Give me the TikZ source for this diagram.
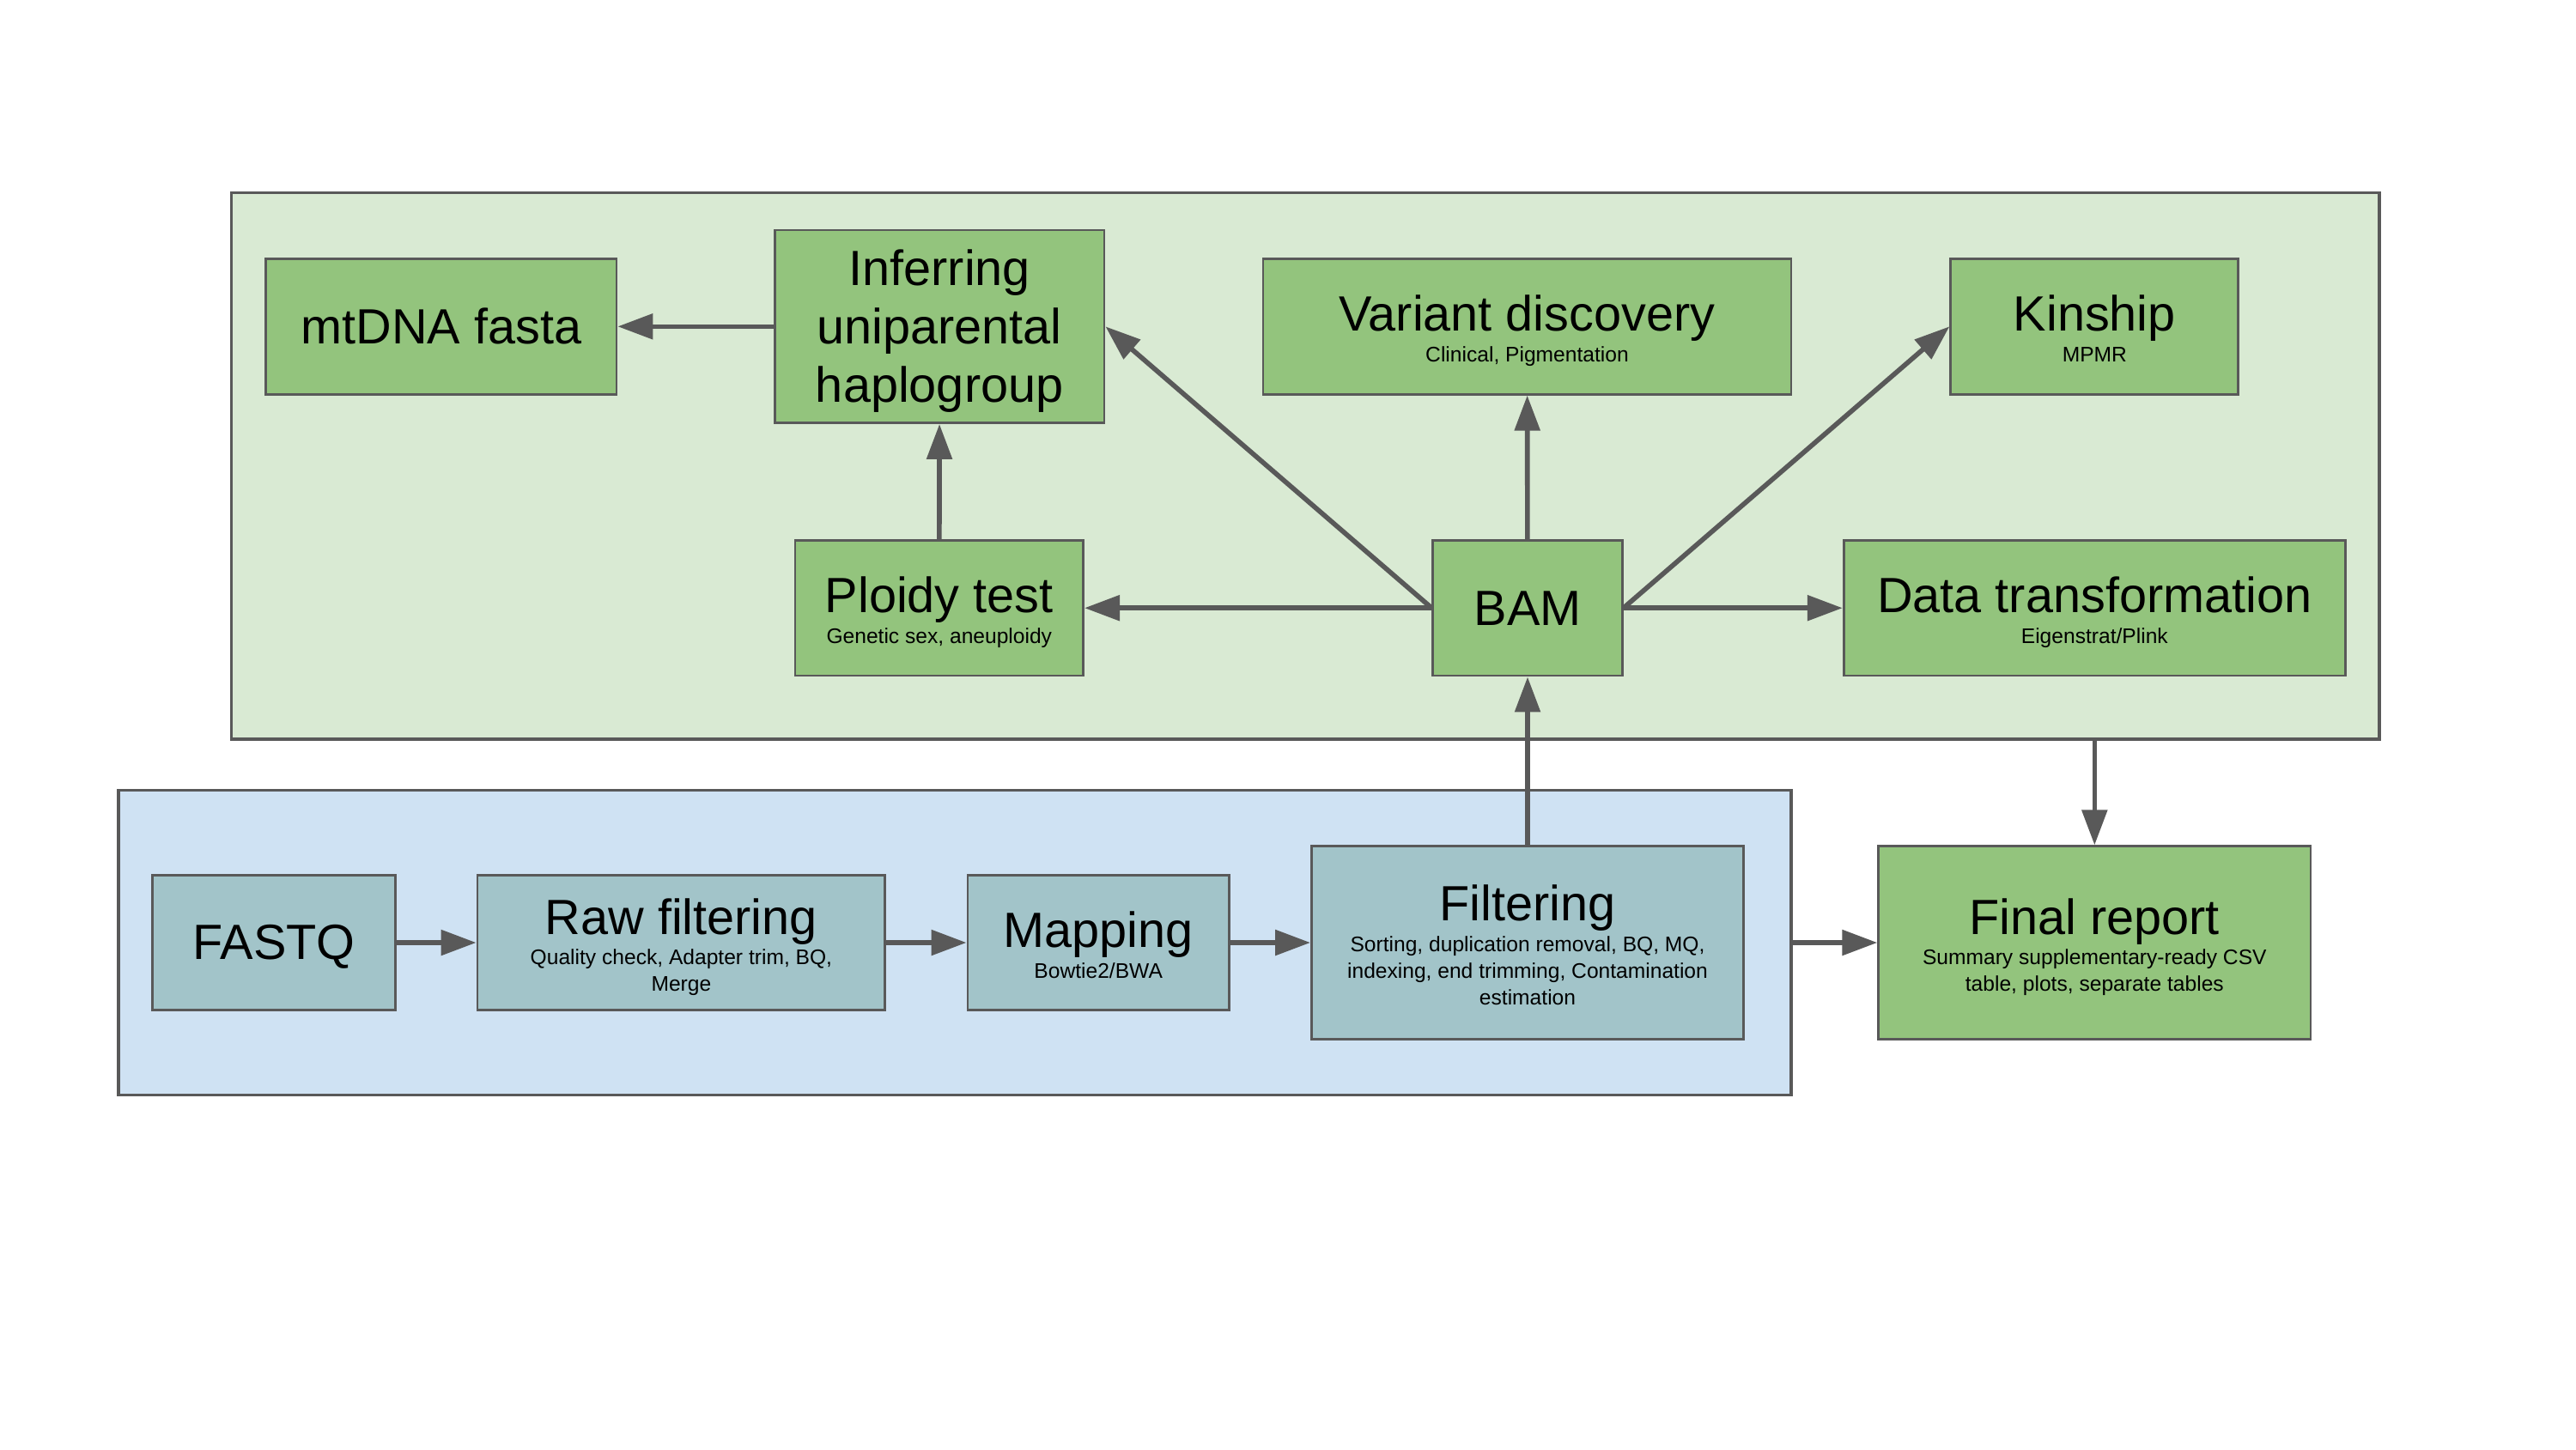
\documentclass[tikz,border=0pt]{standalone}
\usepackage{fontspec}
\setmainfont{Liberation Sans}
\usetikzlibrary{arrows.meta}

\definecolor{boxgreen}{HTML}{93C47D}
\definecolor{panelgreen}{HTML}{D9EAD3}
\definecolor{panelblue}{HTML}{CFE2F3}
\definecolor{boxblue}{HTML}{A2C4C9}
\definecolor{linegray}{HTML}{595959}

\newcommand\titlefont{\fontsize{16.4}{19.4}\selectfont}
\newcommand\subfont{\fontsize{7}{8.85}\selectfont}
\newcommand\tstrut{\rule{0pt}{0.905em}}
\newcommand\bstrut{\rule[-0.212em]{0pt}{0pt}}
\newcommand\titletext[1]{{\titlefont\tstrut #1}}

\begin{document}
\begin{tikzpicture}[x=1cm,y=-1cm,
	panel/.style={draw=linegray,line width=1pt,inner sep=0pt},
	stage/.style={draw=linegray,line width=0.8pt,inner sep=0pt,align=center,font=\subfont},
	greenstage/.style={stage,fill=boxgreen},
	bluestage/.style={stage,fill=boxblue},
	arr/.style={draw=linegray,line width=1.6pt,-{Triangle[length=0.41cm,width=0.29cm]}}]
	
	\def\rowh{1.577cm};
	\def\tallh{2.245cm};
	\def\gap{1.3pt};
	
	\useasboundingbox (0,0) rectangle (30,16.88);
	
	\node[panel,fill=panelgreen,minimum width=25.014cm,minimum height=6.362cm] (green) at (15.203,5.427) {};
	\node[panel,fill=panelblue,minimum width=19.481cm,minimum height=3.549cm] (blue) at (11.12,10.98) {};
	
	\node[greenstage,font=\titlefont,minimum width=4.084cm,minimum height=\rowh] (mtdna) at (5.138,3.803) {\tstrut mtDNA fasta\bstrut};
	\node[greenstage,font=\titlefont,minimum width=3.836cm,minimum height=\tallh] (haplo) at (10.942,3.803) {\tstrut Inferring\\uniparental\\haplogroup\bstrut};
	\node[greenstage,minimum width=6.15cm,minimum height=\rowh] (variant) at (17.785,3.803) {\titletext{Variant discovery}\\[\gap]Clinical, Pigmentation\bstrut};
	\node[greenstage,minimum width=3.351cm,minimum height=\rowh] (kinship) at (24.393,3.803) {\titletext{Kinship}\\[\gap]MPMR\bstrut};
	
	\node[greenstage,minimum width=3.356cm,minimum height=\rowh] (ploidy) at (10.938,7.082) {\titletext{Ploidy test}\\[\gap]Genetic sex, aneuploidy\bstrut};
	\node[greenstage,font=\titlefont,minimum width=2.205cm,minimum height=\rowh] (bam) at (17.79,7.082) {\tstrut BAM\bstrut};
	\node[greenstage,minimum width=5.842cm,minimum height=\rowh] (transform) at (24.393,7.082) {\titletext{Data transformation}\\[\gap]Eigenstrat/Plink\bstrut};
	
	\node[bluestage,font=\titlefont,minimum width=2.83cm,minimum height=\rowh] (fastq) at (3.19,10.98) {\tstrut FASTQ\bstrut};
	\node[bluestage,minimum width=4.749cm,minimum height=\rowh] (rawfilt) at (7.934,10.98) {\titletext{Raw filtering}\\[\gap]Quality check, Adapter trim, BQ,\\Merge\bstrut};
	\node[bluestage,minimum width=3.046cm,minimum height=\rowh] (mapping) at (12.792,10.98) {\titletext{Mapping}\\[\gap]Bowtie2/BWA\bstrut};
	\node[bluestage,minimum width=5.031cm,minimum height=\tallh] (filtering) at (17.79,10.98) {\titletext{Filtering}\\[\gap]Sorting, duplication removal, BQ, MQ,\\indexing, end trimming, Contamination\\estimation\bstrut};
	
	\node[greenstage,minimum width=5.032cm,minimum height=\tallh] (report) at (24.393,10.98) {\titletext{Final report}\\[\gap]Summary supplementary-ready CSV\\table, plots, separate tables\bstrut};
	
	\draw[arr] (fastq) -- (rawfilt);
	\draw[arr] (rawfilt) -- (mapping);
	\draw[arr] (mapping) -- (filtering);
	\draw[arr] (filtering) -- (bam);
	
	\draw[arr] (bam.west) -- (ploidy.east);
	\draw[arr] (bam.west) -- (haplo.east);
	\draw[arr] (bam) -- (variant);
	\draw[arr] (bam.east) -- (kinship.west);
	\draw[arr] (bam.east) -- (transform.west);
	\draw[arr] (ploidy) -- (haplo);
	\draw[arr] (haplo) -- (mtdna);
	
	\draw[arr] (blue.east) -- (report.west);
	\draw[arr] (green.south -| report.north) -- (report.north);
	
\end{tikzpicture}
\end{document}
